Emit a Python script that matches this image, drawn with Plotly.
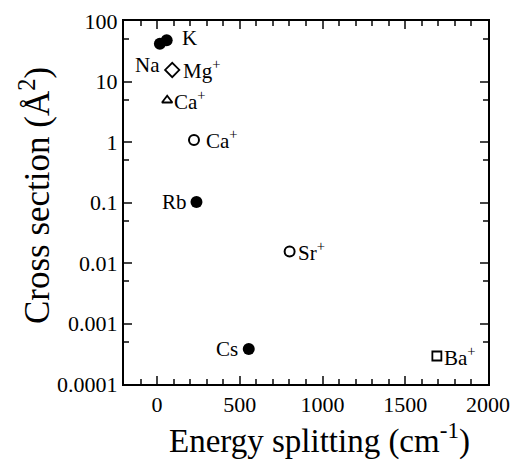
import plotly.graph_objects as go
import math

# Data
names = ["Na", "K", "Mg<sup>+</sup>", "Ca<sup>+</sup>", "Ca<sup>+</sup>", "Rb", "Sr<sup>+</sup>", "Cs", "Ba<sup>+</sup>"]
splitting = [17, 58, 91.5, 61, 223, 238, 801, 554, 1691]
cross_section = [42, 48, 15.5, 4.9, 1.08, 0.102, 0.0155, 0.00038, 0.00029]
symbols = ["filled", "filled", "diamond", "triangle", "open", "filled", "open", "filled", "square"]

ytick_vals = [1e-4, 1e-3, 1e-2, 1e-1, 1, 10, 100]
ytick_text = ["0.0001", "0.001", "0.01", "0.1", "1", "10", "100"]
xtick_vals = [0, 500, 1000, 1500, 2000]
x_title = "Energy splitting (cm<sup>-1</sup>)"
y_title = "Cross section (Å<sup>2</sup>)"

# label placement (styling)
label_style = {
    0: dict(xanchor="right", xshift=2, yshift=-21),
    1: dict(xanchor="left", xshift=13, yshift=2),
    2: dict(xanchor="left", xshift=9, yshift=0),
    3: dict(xanchor="left", xshift=5, yshift=0),
    4: dict(xanchor="left", xshift=10, yshift=0),
    5: dict(xanchor="right", xshift=-7, yshift=0),
    6: dict(xanchor="left", xshift=6, yshift=0),
    7: dict(xanchor="right", xshift=-9, yshift=0),
    8: dict(xanchor="left", xshift=5, yshift=0),
}

marker_map = {
    "filled": dict(symbol="circle", size=12, color="black", line=dict(width=0)),
    "open": dict(symbol="circle-open", size=10, color="black", line=dict(width=2)),
    "diamond": dict(symbol="diamond-open", size=11, color="black", line=dict(width=1.8)),
    "triangle": dict(symbol="triangle-up-open", size=9, color="black", line=dict(width=1.8)),
    "square": dict(symbol="square-open", size=9, color="black", line=dict(width=1.8)),
}

fig = go.Figure()
for kind in ["filled", "open", "diamond", "triangle", "square"]:
    idx = [i for i, s in enumerate(symbols) if s == kind]
    fig.add_trace(go.Scatter(
        x=[splitting[i] for i in idx],
        y=[cross_section[i] for i in idx],
        mode="markers",
        marker=marker_map[kind],
        showlegend=False,
    ))

font = "Liberation Serif, Times New Roman, serif"
for i, n in enumerate(names):
    st = label_style[i]
    fig.add_annotation(
        x=splitting[i], y=math.log10(cross_section[i]), text=n,
        showarrow=False, xanchor=st["xanchor"], yanchor="middle",
        xshift=st["xshift"], yshift=st["yshift"],
        font=dict(family=font, size=21, color="black"),
    )

# axis titles as paper annotations
fig.add_annotation(
    x=0.536, y=0, xref="paper", yref="paper", text=x_title, showarrow=False,
    xanchor="center", yanchor="middle", yshift=-54,
    font=dict(family=font, size=33, color="black"),
)
fig.add_annotation(
    x=-0.245, y=0.52, xref="paper", yref="paper", text=y_title, showarrow=False,
    xanchor="center", yanchor="middle", textangle=-90,
    font=dict(family=font, size=35, color="black"),
)

fig.update_xaxes(
    range=[-200, 2000], tickvals=xtick_vals, ticks="inside", ticklen=8, tickwidth=2,
    minor=dict(dtick=100, ticks="inside", ticklen=5, tickwidth=1.5, tick0=0),
    showline=True, linewidth=2, linecolor="black", mirror="ticks",
    showgrid=False, zeroline=False, automargin=False,
    tickfont=dict(family=font, size=22, color="black"),
)
fig.update_yaxes(
    type="log", range=[-4, 2], tickvals=ytick_vals, ticktext=ytick_text,
    ticks="inside", ticklen=8, tickwidth=2,
    minor=dict(tickvals=[5 * v for v in ytick_vals[:-1]], ticks="inside", ticklen=5, tickwidth=1.5),
    showline=True, linewidth=2, linecolor="black", mirror="ticks",
    showgrid=False, zeroline=False, automargin=False,
    tickfont=dict(family=font, size=22, color="black"),
)
fig.update_layout(
    width=513, height=462,
    margin=dict(l=124, r=25, t=21, b=78),
    plot_bgcolor="white", paper_bgcolor="white",
)
fig.write_html("out.html")
